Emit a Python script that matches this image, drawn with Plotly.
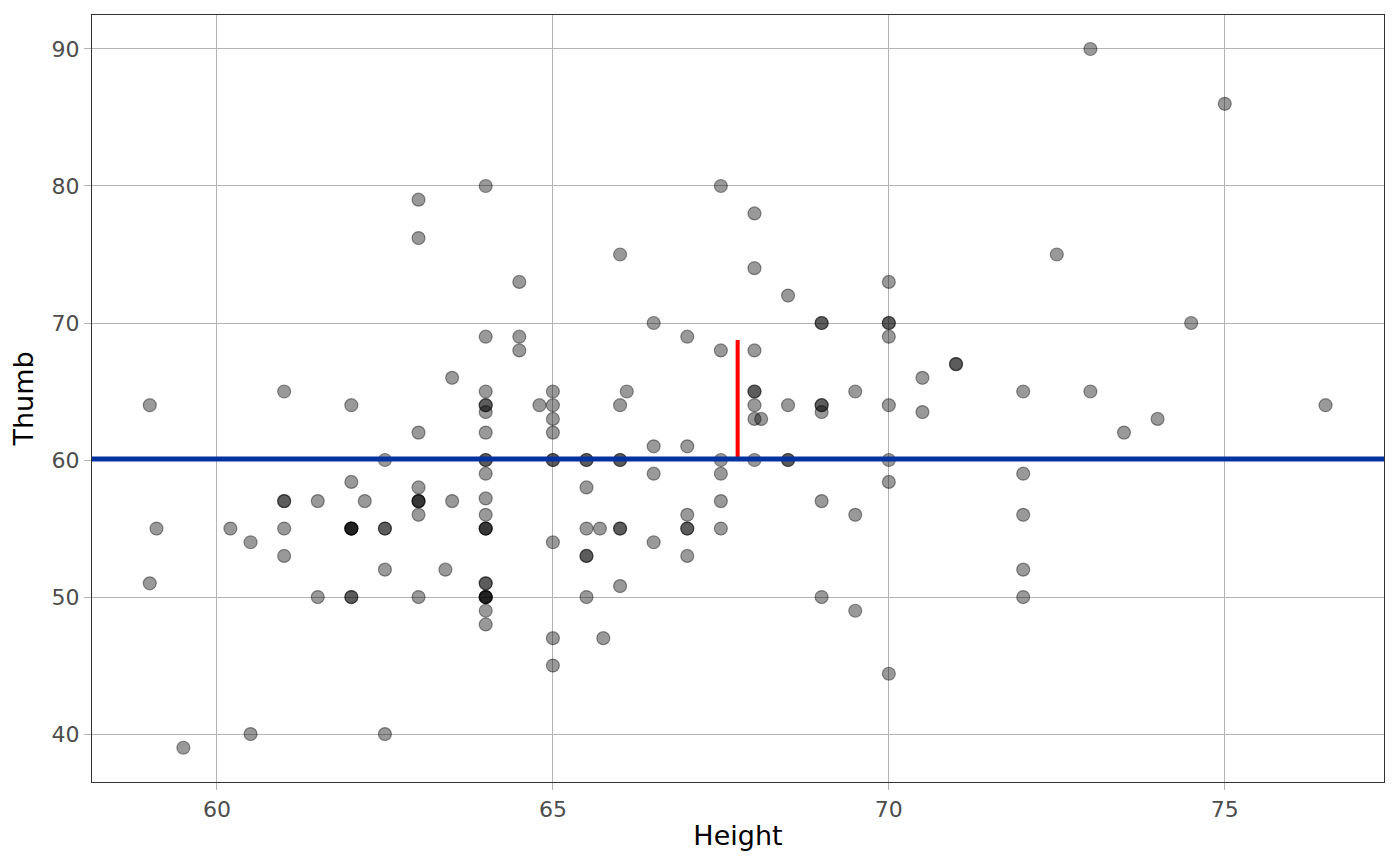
import plotly.graph_objects as go

# Height / Thumb values (repeats = overlapping points)
height = [
    59, 59.1, 59, 59.5, 60.2, 60.5, 60.5,
    61, 61, 61, 61, 61, 61.5, 61.5,
    62, 62, 62, 62, 62, 62, 62, 62, 62.2,
    62.5, 62.5, 62.5, 62.5, 62.5,
    63, 63, 63, 63, 63, 63, 63, 63, 63,
    63.4, 63.5, 63.5,
    64, 64, 64, 64, 64, 64, 64, 64, 64, 64, 64, 64, 64, 64, 64, 64,
    64, 64, 64, 64, 64, 64, 64,
    64.5, 64.5, 64.5, 64.8,
    65, 65, 65, 65, 65, 65, 65, 65, 65,
    65.5, 65.5, 65.5, 65.5, 65.5, 65.5, 65.5,
    65.7, 65.75,
    66, 66, 66, 66, 66, 66, 66, 66.1,
    66.5, 66.5, 66.5, 66.5,
    67, 67, 67, 67, 67, 67,
    67.5, 67.5, 67.5, 67.5, 67.5, 67.5,
    68, 68, 68, 68, 68, 68, 68, 68, 68.1,
    68.5, 68.5, 68.5, 68.5,
    69, 69, 69, 69, 69, 69, 69,
    69.5, 69.5, 69.5,
    70, 70, 70, 70, 70, 70, 70, 70,
    70.5, 70.5, 71, 71,
    72, 72, 72, 72, 72,
    72.5, 73, 73, 73.5, 74, 74.5, 75, 76.5,
]
thumb = [
    64, 55, 51, 39, 55, 54, 40,
    65, 57, 57, 55, 53, 57, 50,
    64, 58.4, 55, 55, 55, 55, 50, 50, 57,
    60, 55, 55, 52, 40,
    79, 76.2, 62, 58, 57, 57, 57, 56, 50,
    52, 66, 57,
    80, 69, 65, 64, 64, 63.5, 62, 60, 60, 59, 57.2, 56, 55, 55, 55, 51,
    51, 50, 50, 50, 50, 49, 48,
    73, 69, 68, 64,
    65, 64, 63, 62, 60, 60, 54, 47, 45,
    60, 60, 58, 55, 53, 53, 50,
    55, 47,
    75, 64, 60, 60, 55, 55, 50.8, 65,
    70, 61, 59, 54,
    69, 61, 56, 55, 55, 53,
    80, 68, 60, 59, 57, 55,
    78, 74, 68, 65, 65, 64, 63, 60, 63,
    72, 64, 60, 60,
    70, 70, 64, 64, 63.5, 57, 50,
    65, 56, 49,
    73, 70, 70, 69, 64, 60, 58.4, 44.4,
    66, 63.5, 67, 67,
    65, 59, 56, 52, 50,
    75, 90, 65, 62, 63, 70, 86, 64,
]

thumb_mean = 60.07
resid_x = [67.75, 67.75]
resid_y = [thumb_mean, 68.76]

fig = go.Figure()

fig.add_trace(go.Scatter(
    x=height, y=thumb, mode="markers",
    marker=dict(size=13, color="rgba(0,0,0,0.4)",
                line=dict(color="rgba(0,0,0,0.4)", width=1.2)),
    showlegend=False, hoverinfo="x+y",
))

fig.add_hline(y=thumb_mean, line=dict(color="#0033a0", width=5))

fig.add_trace(go.Scatter(
    x=resid_x, y=resid_y, mode="lines",
    line=dict(color="#ff0000", width=4),
    showlegend=False,
))

axis_common = dict(
    showgrid=True, gridcolor="#b3b3b3", gridwidth=1,
    zeroline=False,
    showline=True, linecolor="#333333", linewidth=1.2, mirror=True,
    ticks="outside", ticklen=7, tickcolor="#b3b3b3", tickwidth=1,
    tickfont=dict(family="DejaVu Sans", size=22, color="#4d4d4d"),
)

# page body has an 8px margin, so the figure is a bit smaller than the window
fig.update_layout(
    width=1384, height=850,
    margin=dict(l=84, r=8, t=7, b=76),
    paper_bgcolor="white", plot_bgcolor="white",
    font=dict(family="DejaVu Sans"),
    xaxis=dict(axis_common, range=[58.14, 77.37], dtick=5,
               title=dict(text="Height", standoff=5,
                          font=dict(size=27, color="black"))),
    yaxis=dict(axis_common, range=[36.5, 92.48], dtick=10,
               title=dict(text="Thumb", standoff=12,
                          font=dict(size=27, color="black"))),
)

fig.write_html("out.html")
